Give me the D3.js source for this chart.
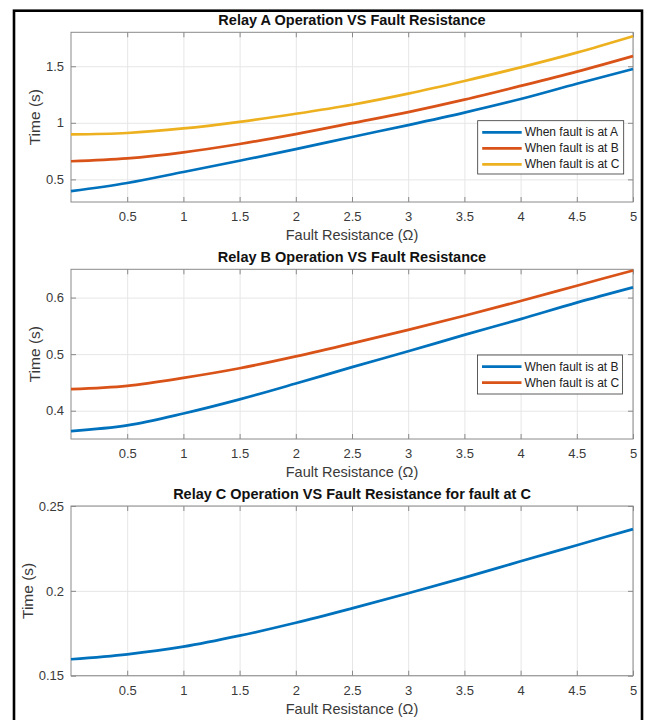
<!DOCTYPE html>
<html>
<head>
<meta charset="utf-8">
<script src="https://cdn.jsdelivr.net/npm/d3@7"></script>
<style>
  body { margin: 0; background: #fff; }
  svg { display: block; font-family: "Liberation Sans", Arial, Helvetica, sans-serif; }
  .tick text { fill: #3a3a3a; font-size: 13px; }
  .frame { fill: none; stroke: #8a8a8a; stroke-width: 1; }
  .grid line { stroke: #e6e6e6; stroke-width: 1; }
  .grid path { display: none; }
  .ax path { display: none; }
  .ax line { stroke: #8a8a8a; }
</style>
</head>
<body>
<div id="FIG"></div>
<script>
// fault resistance (ohm)
const resistance = [0, 0.5, 1, 1.5, 2, 2.5, 3, 3.5, 4, 4.5, 5];
const xTicks = [0.5, 1, 1.5, 2, 2.5, 3, 3.5, 4, 4.5, 5];

// relay A operating time (s)
const relayA_faultA = [0.396, 0.468, 0.565, 0.665, 0.767, 0.875, 0.98, 1.09, 1.21, 1.345, 1.476];
const relayA_faultB = [0.66, 0.686, 0.739, 0.813, 0.90, 0.997, 1.095, 1.205, 1.326, 1.452, 1.59];
const relayA_faultC = [0.897, 0.91, 0.95, 1.009, 1.08, 1.16, 1.258, 1.37, 1.49, 1.62, 1.765];
const relayA_yTicks = [0.5, 1, 1.5];

// relay B operating time (s)
const relayB_faultB = [0.364, 0.374, 0.395, 0.42, 0.448, 0.477, 0.505, 0.534, 0.562, 0.591, 0.618];
const relayB_faultC = [0.438, 0.444, 0.458, 0.475, 0.496, 0.519, 0.543, 0.568, 0.594, 0.621, 0.648];
const relayB_yTicks = [0.4, 0.5, 0.6];

// relay C operating time (s)
const relayC_faultC = [0.1597, 0.1626, 0.1671, 0.1736, 0.1812, 0.1897, 0.1986, 0.2078, 0.2174, 0.2269, 0.2364];
const relayC_yTicks = [0.15, 0.2, 0.25];

const colors = ["#0072BD", "#D95319", "#EDB120"];

const W = 648, H = 720;
const svg = d3.select("#FIG").append("svg").attr("width", W).attr("height", H);

// outer black frame
svg.append("rect")
  .attr("x", 14).attr("y", 10.7)
  .attr("width", 628).attr("height", 740)
  .attr("fill", "none").attr("stroke", "#000").attr("stroke-width", 2.6);

const panels = [
  { title: "Relay A Operation VS Fault Resistance", top: 32.3, yDomain: [0.3, 1.8], yTicks: relayA_yTicks,
    fmt: d3.format("~g"), ylabX: 34,
    series: [relayA_faultA, relayA_faultB, relayA_faultC],
    names: ["When fault is at A", "When fault is at B", "When fault is at C"],
    legend: { x: 477.7, y: 120.7, w: 146, h: 53.3 } },
  { title: "Relay B Operation VS Fault Resistance", top: 269.3, yDomain: [0.35, 0.65], yTicks: relayB_yTicks,
    fmt: d3.format(".1f"), ylabX: 34,
    series: [relayB_faultB, relayB_faultC],
    names: ["When fault is at B", "When fault is at C"],
    legend: { x: 477.5, y: 355, w: 145, h: 39 } },
  { title: "Relay C Operation VS Fault Resistance for fault at C", top: 506, yDomain: [0.15, 0.25], yTicks: relayC_yTicks,
    fmt: d3.format("~g"), ylabX: 27,
    series: [relayC_faultC],
    names: null, legend: null }
];

const left = 71, right = 633, ph = 169.7;

panels.forEach(function (p) {
  const bottom = p.top + ph;
  const x = d3.scaleLinear().domain([0, 5]).range([left, right]);
  const y = d3.scaleLinear().domain(p.yDomain).range([bottom, p.top]);
  const g = svg.append("g");

  // grid
  g.append("g").attr("class", "grid").attr("transform", `translate(0,${bottom})`)
    .call(d3.axisBottom(x).tickValues(xTicks).tickSize(-ph).tickFormat(""));
  g.append("g").attr("class", "grid").attr("transform", `translate(${left},0)`)
    .call(d3.axisLeft(y).tickValues(p.yTicks).tickSize(-(right - left)).tickFormat(""));

  // box
  g.append("rect").attr("class", "frame")
    .attr("x", left).attr("y", p.top).attr("width", right - left).attr("height", ph);

  // ticks (inward, all four sides)
  g.append("g").attr("class", "ax").attr("transform", `translate(0,${bottom})`)
    .call(d3.axisBottom(x).tickValues(xTicks).tickSize(-5).tickPadding(10).tickFormat(d3.format("~g")));
  g.append("g").attr("class", "ax").attr("transform", `translate(0,${p.top})`)
    .call(d3.axisTop(x).tickValues(xTicks).tickSize(-5).tickFormat(""));
  g.append("g").attr("class", "ax").attr("transform", `translate(${left},0)`)
    .call(d3.axisLeft(y).tickValues(p.yTicks).tickSize(-5).tickPadding(7).tickFormat(p.fmt));
  g.append("g").attr("class", "ax").attr("transform", `translate(${right},0)`)
    .call(d3.axisRight(y).tickValues(p.yTicks).tickSize(-5).tickFormat(""));

  // lines
  const line = d3.line().x((d, i) => x(resistance[i])).y(d => y(d)).curve(d3.curveMonotoneX);
  p.series.forEach(function (s, k) {
    g.append("path").datum(s)
      .attr("d", line)
      .attr("fill", "none")
      .attr("stroke", colors[k])
      .attr("stroke-width", 2.7);
  });

  // title & labels
  g.append("text")
    .attr("x", (left + right) / 2).attr("y", p.top - 12)
    .attr("text-anchor", "middle").attr("dominant-baseline", "central")
    .style("font-size", "14.5px").style("font-weight", "bold").attr("fill", "#111")
    .text(p.title);
  g.append("text")
    .attr("x", (left + right) / 2).attr("y", bottom + 33)
    .attr("text-anchor", "middle").attr("dominant-baseline", "central")
    .style("font-size", "14.5px").attr("fill", "#3a3a3a")
    .text("Fault Resistance (\u03A9)");
  g.append("text")
    .attr("transform", `translate(${p.ylabX},${(p.top + bottom) / 2}) rotate(-90)`)
    .attr("text-anchor", "middle").attr("dominant-baseline", "central")
    .style("font-size", "15.5px").attr("fill", "#3a3a3a")
    .text("Time (s)");

  // legend
  if (p.legend) {
    const L = p.legend;
    const lg = g.append("g");
    lg.append("rect")
      .attr("x", L.x).attr("y", L.y).attr("width", L.w).attr("height", L.h)
      .attr("fill", "#fff").attr("stroke", "#333").attr("stroke-width", 0.8);
    p.names.forEach(function (n, k) {
      const ry = L.y + 11.7 + k * 16;
      lg.append("line")
        .attr("x1", L.x + 4.5).attr("x2", L.x + 44).attr("y1", ry).attr("y2", ry)
        .attr("stroke", colors[k]).attr("stroke-width", 2.7);
      lg.append("text")
        .attr("x", L.x + 47).attr("y", ry)
        .attr("dominant-baseline", "central")
        .style("font-size", "12px").attr("fill", "#222")
        .text(n);
    });
  }
});
</script>
</body>
</html>
